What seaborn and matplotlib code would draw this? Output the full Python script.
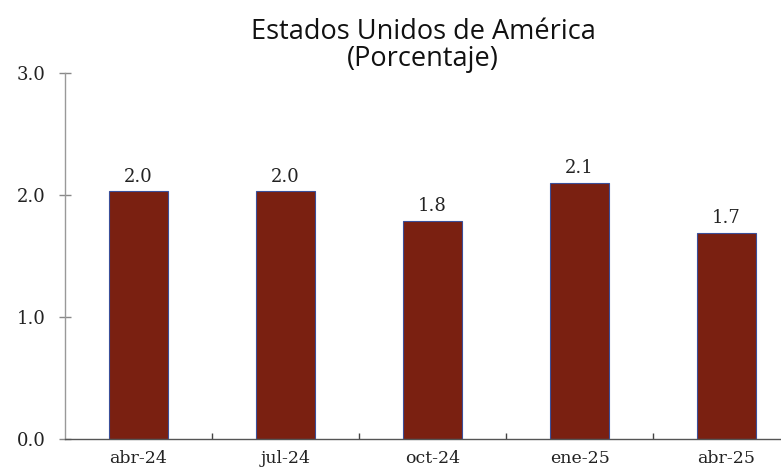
import numpy as np
import pandas as pd
import matplotlib.pyplot as plt
import seaborn as sns
from matplotlib.ticker import FixedLocator

sns.set_theme(style="white")

periodos = ["abr-24", "jul-24", "oct-24", "ene-25", "abr-25"]
valores = [2.03, 2.03, 1.79, 2.10, 1.69]
etiquetas = ["2.0", "2.0", "1.8", "2.1", "1.7"]

df = pd.DataFrame({"periodo": periodos, "valor": valores})

fig = plt.figure(figsize=(7.81, 4.69), dpi=100)
ax = fig.add_axes([0.0832, 0.064, 0.9168, 0.7803])

sns.barplot(data=df, x="periodo", y="valor", color="#7a2011", width=0.40,
            edgecolor="#3b4f99", linewidth=0.8, saturation=1, ax=ax)

for p, txt in zip(ax.patches, etiquetas):
    ax.annotate(txt, (p.get_x() + p.get_width() / 2., p.get_height()),
                ha="center", va="bottom", fontsize=13, family="DejaVu Serif",
                xytext=(0, 4), textcoords="offset points", color="#222222")

ax.set_ylim(0, 3.0)
ax.set_xlim(-0.5, 4.37)
ax.set_yticks([0, 1, 2, 3])
ax.set_yticklabels(["0.0", "1.0", "2.0", "3.0"])
ax.set_xlabel("")
ax.set_ylabel("")

for lbl in ax.get_xticklabels():
    lbl.set_family("DejaVu Serif")
    lbl.set_fontsize(12.5)
    lbl.set_color("#222222")
for lbl in ax.get_yticklabels():
    lbl.set_family("DejaVu Serif")
    lbl.set_fontsize(13)
    lbl.set_color("#222222")

ax.xaxis.set_minor_locator(FixedLocator(np.arange(0.5, 4.5, 1)))
ax.tick_params(axis="x", which="major", length=0, pad=8)
ax.tick_params(axis="x", which="minor", direction="in", length=4, width=1,
               color="#444444", bottom=True)
ax.tick_params(axis="y", which="major", direction="inout", length=8, width=1,
               color="#888888", left=True, pad=10)

for s in ["top", "right"]:
    ax.spines[s].set_visible(False)
ax.spines["left"].set_color("#999999")
ax.spines["bottom"].set_color("#555555")
ax.spines["left"].set_linewidth(1)
ax.spines["bottom"].set_linewidth(1)

ax.set_title("Estados Unidos de América\n(Porcentaje)", fontsize=19.5,
             family="Open Sans", color="#111111", pad=5, linespacing=0.95)

fig.savefig("out.png", dpi=100)
plt.close()
